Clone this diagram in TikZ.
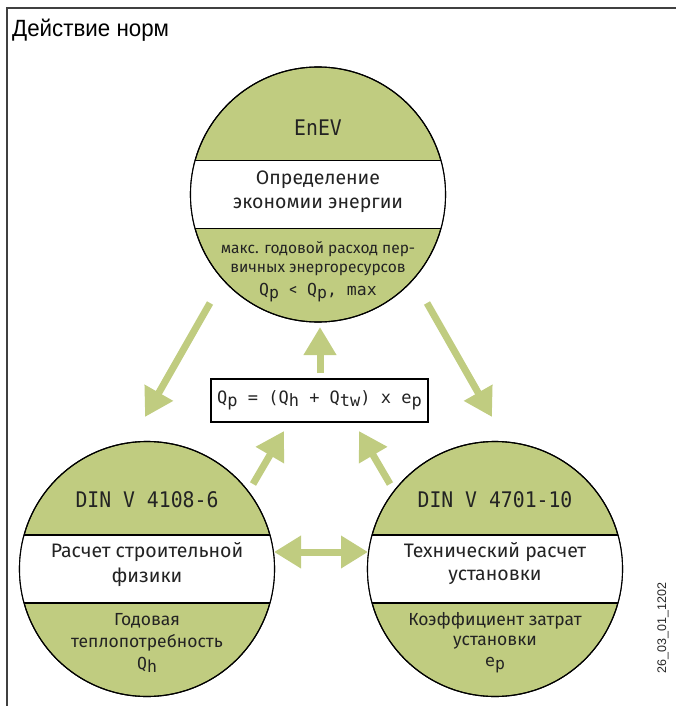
\documentclass[tikz,border=0pt]{standalone}
\usepackage{fontspec}
\setmainfont{Fira Sans}
\newfontfamily\monof{DejaVu Sans Mono}
\newfontfamily\monoc[FakeStretch=0.92]{DejaVu Sans Mono}
\newfontfamily\arialf{Liberation Sans}
\newfontfamily\arialn[FakeStretch=0.95]{Liberation Sans}
\usetikzlibrary{arrows.meta}
\definecolor{gr}{RGB}{192,204,128}
\definecolor{tx}{RGB}{35,35,35}
\newcommand{\lo}[1]{\raisebox{-0.35ex}{#1}}
\begin{document}
\begin{tikzpicture}[x=1pt,y=-1pt,
  disc/.style={circle,draw=black,line width=1.1pt,fill=gr,minimum size=255pt,inner sep=0pt},
  head/.style={text=tx,font=\monoc\fontsize{21.5}{24}\selectfont,inner sep=0pt},
  mid/.style={text=tx,font=\fontsize{19.5}{24}\selectfont,inner sep=0pt},
  low/.style={text=tx,font=\fontsize{17.5}{20}\selectfont,inner sep=0pt},
  lowtop/.style={text=tx,font=\fontsize{15.5}{20}\selectfont,inner sep=0pt},
  sym/.style={text=tx,font=\monof\fontsize{16.5}{20}\selectfont,inner sep=0pt},
  garrow/.style={draw=gr,line width=7pt,-{Triangle[width=31pt,length=28pt]}},
  gdouble/.style={draw=gr,line width=7pt,{Triangle[width=31pt,length=27pt]}-{Triangle[width=31pt,length=27pt]}}]
\useasboundingbox (0,0) rectangle (676,706);
% frame
\draw[line width=1.4pt,black!75] (676,8) -- (7,8) -- (7,706);
\node[anchor=base west,inner sep=0pt,font=\arialn\fontsize{23.5}{26}\selectfont] (title) at (12,37) {Действие норм};
\node[rotate=90,inner sep=0pt,font=\arialf\fontsize{12.5}{14}\selectfont,text=black!85] (code) at (663,628) {26\_03\_01\_1202};

% circles
\node[disc] (enev) at (318,194.5) {};
\node[disc] (dinA) at (147,569) {};
\node[disc] (dinB) at (495,569) {};
\foreach \c in {enev,dinA,dinB}{
  \begin{scope}
    \clip (\c.center) circle[radius=127.5pt];
    \fill[white] ([yshift=34pt]\c.center) ++(-140,0) rectangle ++(280,68);
    \draw[line width=1.1pt] ([yshift=34pt]\c.center) ++(-140,0) -- ++(280,0);
    \draw[line width=1.1pt] ([yshift=-34pt]\c.center) ++(-140,0) -- ++(280,0);
  \end{scope}
  \draw[line width=1.1pt] (\c.center) circle[radius=127.5pt];
}

% top circle texts
\node[head] (t1) at (318,128) {EnEV};
\node[mid] (t2) at (318,180) {Определение};
\node[mid] (t3) at (318,205) {экономии энергии};
\node[lowtop] (t4) at (318,249) {макс. годовой расход пер-};
\node[lowtop] (t5) at (318,270) {вичных энергоресурсов};
\node[sym] (t6) at (318,293) {Q\lo{p} {\fontspec{Fira Sans}<} Q\lo{p}, max};

% left circle texts
\node[head] (a1) at (147,500) {DIN V 4108-6};
\node[mid] (a2) at (147,552) {Расчет строительной};
\node[mid] (a3) at (147,577) {физики};
\node[low] (a4) at (147,621) {Годовая};
\node[low] (a5) at (147,643) {теплопотребность};
\node[sym] (a6) at (147,665) {Q\lo{h}};

% right circle texts
\node[head] (b1) at (495,500) {DIN V 4701-10};
\node[mid] (b2) at (495,552) {Технический расчет};
\node[mid] (b3) at (495,577) {установки};
\node[low] (b4) at (495,621) {Коэффициент затрат};
\node[low] (b5) at (495,643) {установки};
\node[sym] (b6) at (495,665) {e\lo{p}};

% formula
\node[draw=black,line width=1.2pt,minimum width=217pt,minimum height=43pt,inner sep=0pt,
      text=tx,font=\monof\fontsize{17}{20}\selectfont] (form) at (319.5,400.5)
      {Q\lo{p} = (Q\lo{h} + Q\lo{tw}) x e\lo{p}};

% arrow end coordinates
\coordinate (s1) at (210,303); \coordinate (e1) at (145,417);
\coordinate (s2) at (427,303); \coordinate (e2) at (492,417);
\coordinate (s3) at (320,373); \coordinate (e3) at (320,327);
\coordinate (s4) at (253,484); \coordinate (e4) at (284,431);
\coordinate (s5) at (390,484); \coordinate (e5) at (359,431);
\coordinate (l6) at (274,552); \coordinate (r6) at (368,552);

\draw[garrow] (s1) -- (e1);
\draw[garrow] (s2) -- (e2);
\draw[garrow] (s3) -- (e3);
\draw[garrow] (s4) -- (e4);
\draw[garrow] (s5) -- (e5);
\draw[gdouble] (l6) -- (r6);
\end{tikzpicture}
\end{document}
